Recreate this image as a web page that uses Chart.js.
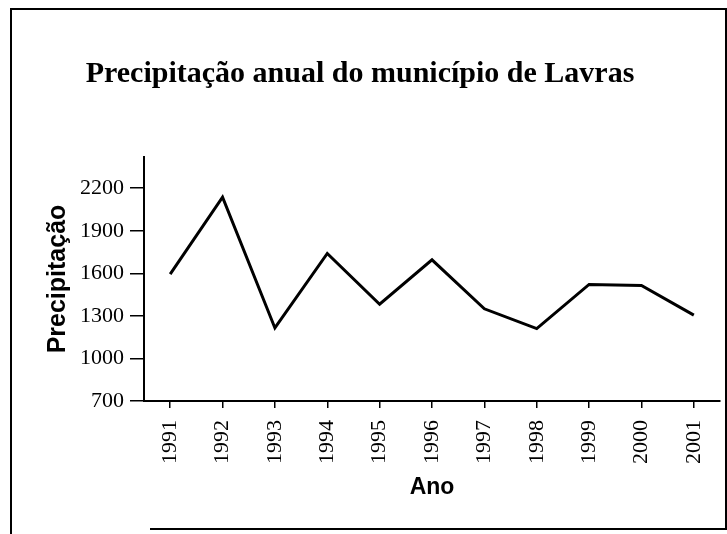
<!DOCTYPE html>
<html>
<head>
<meta charset="utf-8">
<script src="https://cdn.jsdelivr.net/npm/chart.js@4"></script>
<style>
  html, body { margin: 0; padding: 0; background: #fff; }
  #wrap { width: 727px; height: 534px; position: relative; }
</style>
</head>
<body>
<div id="wrap"><canvas id="chart"></canvas></div>
<script>
const anos = ['1991', '1992', '1993', '1994', '1995', '1996', '1997', '1998', '1999', '2000', '2001']
const precipitacao = [1595, 2137, 1215, 1740, 1382, 1695, 1350, 1210, 1522, 1515, 1305]
const yTicks = [700, 1000, 1300, 1600, 1900, 2200]

const chartCanv = document.querySelector('#chart')

// frame around the whole picture
const framePlugin = {
    id: 'frame',
    afterDraw(chart){
        const ctx = chart.ctx
        ctx.save()
        ctx.strokeStyle = '#000'
        ctx.lineWidth = 2
        ctx.beginPath()
        ctx.moveTo(11, 534)
        ctx.lineTo(11, 9)
        ctx.lineTo(726, 9)
        ctx.lineTo(726, 529)
        ctx.lineTo(150, 529)
        ctx.stroke()
        ctx.restore()
    }
}

const config = {
    type: 'line',
    data: {
        labels: anos,
        datasets: [{
            label: 'Precipitação',
            data: precipitacao,
            borderColor: '#000',
            backgroundColor: '#000',
            borderWidth: 3,
            pointRadius: 0,
            tension: 0
        }]
    },
    options: {
        responsive: true,
        maintainAspectRatio: false,
        animation: false,
        layout: { padding: { left: 0, right: 7, top: 0, bottom: 0 } },
        plugins: {
            legend: { display: false },
            tooltip: { enabled: false },
            title: {
                display: true,
                text: 'Precipitação anual do município de Lavras',
                color: '#000',
                font: { family: 'Liberation Serif', size: 30, weight: 'bold' },
                padding: { top: 56, bottom: 65 }
            }
        },
        scales: {
            x: {
                offset: true,
                grid: { display: true, drawOnChartArea: false, drawTicks: true, tickLength: 7, color: '#000', lineWidth: 1.5 },
                border: { display: true, color: '#000', width: 2 },
                ticks: { color: '#000', minRotation: 90, maxRotation: 90, padding: 12, autoSkip: false,
                    font: { family: 'Liberation Serif', size: 22 } },
                title: { display: true, text: 'Ano', color: '#000',
                    font: { family: 'Liberation Sans', size: 23, weight: 'bold' },
                    padding: { top: 0, bottom: 33 } },
                afterFit(scale){
                    scale.height = 133
                    scale.paddingLeft = 0
                    scale.paddingRight = 0
                }
            },
            y: {
                min: 700,
                max: 2420,
                grid: { display: true, drawOnChartArea: false, drawTicks: true, tickLength: 14, color: '#000', lineWidth: 1.5 },
                border: { display: true, color: '#000', width: 2 },
                ticks: { color: '#000', padding: 6, font: { family: 'Liberation Serif', size: 22 },
                    callback: v => String(v) },
                afterBuildTicks(scale){ scale.ticks = yTicks.map(v => ({ value: v })) },
                title: { display: true, text: 'Precipitação', color: '#000',
                    font: { family: 'Liberation Sans', size: 25, weight: 'bold' },
                    padding: { top: 43, bottom: 0 } },
                afterFit(scale){ scale.width = 144 }
            }
        }
    },
    plugins: [framePlugin]
}

const chartX = new Chart(chartCanv, config)
</script>
</body>
</html>
